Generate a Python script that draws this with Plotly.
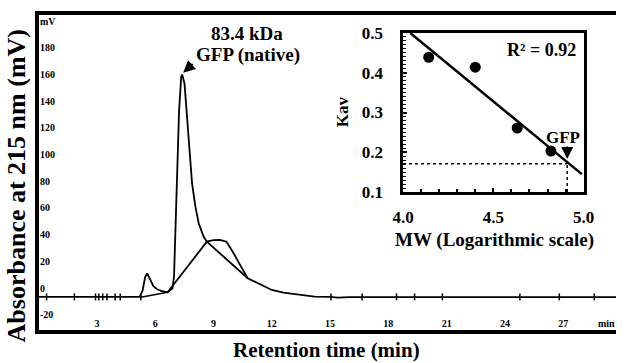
import plotly.graph_objects as go

# ---------------- data ----------------
# main chromatogram (retention time in min, absorbance in mV)
chrom_t = [0.0, 5.2, 5.35, 5.48, 5.59, 5.7, 5.9, 6.1, 6.3, 6.64, 6.89, 6.97, 7.09, 7.23, 7.34, 7.39,
           7.51, 7.61, 7.73, 7.9, 8.07, 8.24, 8.49, 8.66, 10.76, 12.0, 12.6, 13.2, 14.2, 15.0, 15.4, 16.0, 30.0]
chrom_mv = [-6.7, -6.7, -2.0, 8.0, 11.0, 7.5, 1.5, -1.0, -2.2, -3.2, -0.2, 8.5, 71.0, 133.0, 158.3, 160.0,
            153.0, 133.0, 108.0, 78.0, 61.0, 48.5, 38.5, 34.7, 7.3, -1.5, -3.5, -4.7, -6.5, -6.7, -7.2, -6.8, -6.8]

# fitted broad peak / integration baselines
fit_t = [6.64, 8.66, 9.0, 9.33, 9.67, 10.0, 10.42, 10.76]
fit_mv = [-3.2, 34.7, 35.8, 36.0, 34.7, 27.0, 16.0, 7.3]
base_t = [5.26, 6.64]
base_mv = [-6.9, -3.2]

# event marks on the baseline
event_t = [0.41, 1.84, 2.93, 3.1, 3.3, 3.52, 3.94, 4.2, 5.26, 15.05, 16.65, 18.42, 19.35, 20.78, 24.77, 26.8, 28.6]
event_mv = [-6.7] * len(event_t)

main_x_ticks = [3, 6, 9, 12, 15, 18, 21, 24, 27]
main_y_ticks = [-20, 0, 20, 40, 60, 80, 100, 120, 140, 160, 180, 200]
main_y_text = ["-20", "0", "20", "40", "60", "80", "100", "120", "140", "160", "180", "mV"]

# inset calibration (log MW vs Kav)
std_logmw = [4.142, 4.40, 4.632, 4.819]
std_kav = [0.439, 0.414, 0.261, 0.203]
fit_line_x = [4.04, 4.99]
fit_line_y = [0.50, 0.145]
gfp_logmw = 4.909
gfp_kav = 0.171

peak_t = 7.44
peak_mv = 161.3

# ---------------- layout helpers (pixels -> paper) ----------------
W, H = 627, 363
L, R, T, B = 39, 0, 15, 33
PW, PH = W - L - R, H - T - B


def px(x):
    return (x - L) / PW


def py(y):
    return (H - B - y) / PH


FONT = "Liberation Serif"

fig = go.Figure()

# main chromatogram
fig.add_trace(go.Scatter(x=chrom_t, y=chrom_mv, mode="lines",
                         line=dict(color="black", width=1.8), hoverinfo="skip"))
fig.add_trace(go.Scatter(x=fit_t, y=fit_mv, mode="lines",
                         line=dict(color="black", width=1.8), hoverinfo="skip"))
fig.add_trace(go.Scatter(x=base_t, y=base_mv, mode="lines",
                         line=dict(color="black", width=1.5), hoverinfo="skip"))
fig.add_trace(go.Scatter(x=event_t, y=event_mv, mode="markers",
                         marker=dict(symbol="line-ns", size=5, line=dict(color="black", width=1.5)),
                         hoverinfo="skip"))

# inset
fig.add_trace(go.Scatter(x=fit_line_x, y=fit_line_y, mode="lines", xaxis="x2", yaxis="y2",
                         line=dict(color="black", width=2.5), hoverinfo="skip"))
fig.add_trace(go.Scatter(x=[4.0, gfp_logmw], y=[gfp_kav, gfp_kav], mode="lines", xaxis="x2", yaxis="y2",
                         line=dict(color="black", width=1.5, dash="dot"), hoverinfo="skip"))
fig.add_trace(go.Scatter(x=[gfp_logmw, gfp_logmw], y=[0.1, gfp_kav], mode="lines", xaxis="x2", yaxis="y2",
                         line=dict(color="black", width=1.5, dash="dot"), hoverinfo="skip"))
fig.add_trace(go.Scatter(x=std_logmw, y=std_kav, mode="markers", xaxis="x2", yaxis="y2",
                         marker=dict(color="black", size=11), hoverinfo="skip"))

tickfont_main = dict(family=FONT, size=10, color="black", weight="bold")
tickfont_in = dict(family=FONT, size=17, color="black", weight="bold")

fig.update_layout(
    width=W, height=H,
    margin=dict(l=L, r=R, t=T, b=B, pad=0),
    paper_bgcolor="white", plot_bgcolor="white",
    showlegend=False,
    xaxis=dict(range=[(L - 38.6) / 19.8, (W - 38.6) / 19.8], showgrid=False, zeroline=False,
               showline=True, linecolor="black", linewidth=4, mirror=True,
               tickmode="array", tickvals=main_x_ticks, ticks="",
               ticklabelposition="inside", tickfont=tickfont_main),
    yaxis=dict(range=[(288 - (H - B)) / 1.335, (288 - T) / 1.335], showgrid=False, zeroline=False,
               showline=True, linecolor="black", linewidth=4,
               tickmode="array", tickvals=main_y_ticks, ticktext=main_y_text, ticks="",
               ticklabelposition="inside", tickfont=tickfont_main),
    xaxis2=dict(domain=[px(410), px(594)], anchor="y2", range=[4.0, 5.0],
                showgrid=False, zeroline=False, showline=True, linecolor="black", linewidth=2.5,
                mirror=True, tickmode="array", tickvals=[4.0, 4.5, 5.0], ticktext=["4.0", "4.5", "5.0"],
                ticks="inside", ticklen=4, tickwidth=1.5, tickcolor="black",
                minor=dict(dtick=0.1, ticks="inside", ticklen=3, tickwidth=1.5, tickcolor="black"),
                tickfont=tickfont_in, ticklabelstandoff=8),
    yaxis2=dict(domain=[py(192), py(33)], anchor="x2", range=[0.1, 0.5],
                showgrid=False, zeroline=False, showline=True, linecolor="black", linewidth=2.5,
                mirror=True, tickmode="array", tickvals=[0.1, 0.2, 0.3, 0.4, 0.5],
                ticktext=["0.1", "0.2", "0.3", "0.4", "0.5"],
                ticks="inside", ticklen=4, tickwidth=1.5, tickcolor="black",
                minor=dict(dtick=0.01, ticks="inside", ticklen=3, tickwidth=1.2, tickcolor="black"),
                tickfont=tickfont_in, ticklabelstandoff=14),
)

ann = []


def text(xp, yp, s, size, angle=0):
    ann.append(dict(x=px(xp), y=py(yp), xref="paper", yref="paper", text=s, showarrow=False,
                    textangle=angle, xanchor="center", yanchor="middle",
                    font=dict(family=FONT, size=size, color="black", weight="bold")))


text(16, 186, "Absorbance at 215 nm (mV)", 26, -90)
text(332, 350, "Retention time (min)", 21)
text(251, 33, "83.4 kDa", 19)
text(252, 55, "GFP (native)", 19)
text(617, 323, "min", 10)
text(551, 50, "R² = 0.92", 18)
text(573, 137, "GFP", 17)
text(348, 112, "Kav", 17, -90)
text(503, 240, "MW (Logarithmic scale)", 19)

# arrows
ann.append(dict(x=peak_t, y=peak_mv, xref="x", yref="y", ax=11, ay=-10, axref="pixel", ayref="pixel",
                text="", showarrow=True, arrowhead=2, arrowsize=1.2, arrowwidth=2, arrowcolor="black"))
ann.append(dict(x=gfp_logmw, y=gfp_kav + 0.012, xref="x2", yref="y2", ax=0, ay=-14,
                text="", showarrow=True, arrowhead=2, arrowsize=1.2, arrowwidth=2, arrowcolor="black"))

fig.update_layout(annotations=ann)

fig.write_html("out.html", config={"displayModeBar": False},
               post_script="document.body.style.margin='0';document.body.style.overflow='hidden';")
